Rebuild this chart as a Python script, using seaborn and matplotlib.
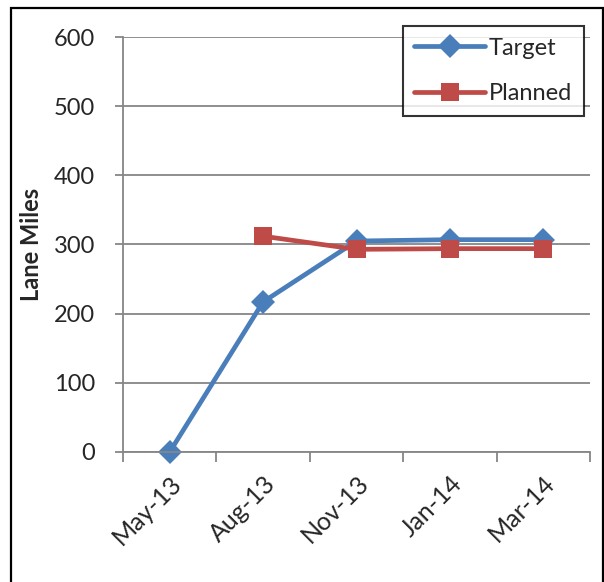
import numpy as np
import pandas as pd
import matplotlib
matplotlib.use("Agg")
import matplotlib.pyplot as plt
import seaborn as sns
from matplotlib.patches import Rectangle

# Reporting months and lane-mile values
categories = ["May-13", "Aug-13", "Nov-13", "Jan-14", "Mar-14"]
target = [0, 217, 305, 307, 307]
planned = [np.nan, 312, 293, 294, 294]
y_ticks = [0, 100, 200, 300, 400, 500, 600]

sns.set_theme(style="white")
plt.rcParams["font.family"] = ["Lato", "DejaVu Sans"]

BLUE = "#4A7EBB"
RED = "#BE4B48"
GRID = "#868686"

positions = np.arange(len(categories))
df = pd.DataFrame({"pos": positions, "Target": target, "Planned": planned})

fig = plt.figure(figsize=(6.04, 5.82), dpi=100)
ax = fig.add_axes([123 / 604, 1 - 452 / 582, (590 - 123) / 604, (452 - 37) / 582])

sns.lineplot(data=df, x="pos", y="Target", ax=ax, color=BLUE, lw=3.4,
             marker="D", markersize=12, markeredgewidth=0, label="Target",
             clip_on=False)
sns.lineplot(data=df.dropna(), x="pos", y="Planned", ax=ax, color=RED, lw=3.4,
             marker="s", markersize=12.5, markeredgewidth=0, label="Planned",
             clip_on=False)

ax.set_xlim(-0.5, len(categories) - 0.5)
ax.set_ylim(0, 600)
ax.set_yticks(y_ticks)
ax.set_yticklabels([str(v) for v in y_ticks], fontsize=17)
ax.yaxis.grid(True, color=GRID, lw=1.3)
ax.set_axisbelow(True)

ax.set_xticks(positions)
ax.set_xticklabels(categories, rotation=45, ha="right", rotation_mode="anchor",
                   fontsize=18)
ax.set_xticks(np.arange(-0.5, len(categories), 1.0), minor=True)
ax.tick_params(axis="x", which="major", length=0, pad=14)
ax.tick_params(axis="x", which="minor", length=7, width=1.3, color=GRID,
               direction="out", bottom=True)
ax.tick_params(axis="y", length=6, width=1.3, color=GRID, direction="out",
               left=True, pad=14)

for side in ("top", "right"):
    ax.spines[side].set_visible(False)
for side in ("left", "bottom"):
    ax.spines[side].set_color(GRID)
    ax.spines[side].set_linewidth(1.3)

ax.set_xlabel("")
ax.set_ylabel("Lane Miles", fontsize=17, fontweight="bold", labelpad=8)

leg = ax.legend(loc="upper right", bbox_to_anchor=(0.987, 1.027), fontsize=17,
                frameon=True, fancybox=False, handlelength=3.0,
                labelspacing=1.05, borderpad=0.5, handletextpad=0.15,
                borderaxespad=0)
leg.get_frame().set_edgecolor("black")
leg.get_frame().set_linewidth(1.5)

# Outer chart border
fig.patches.append(Rectangle((11 / 604, -0.02), (603 - 11) / 604, 0.02 + (1 - 8 / 582),
                             transform=fig.transFigure, fill=False,
                             edgecolor="black", lw=1.6))

fig.savefig("out.png", dpi=100)
